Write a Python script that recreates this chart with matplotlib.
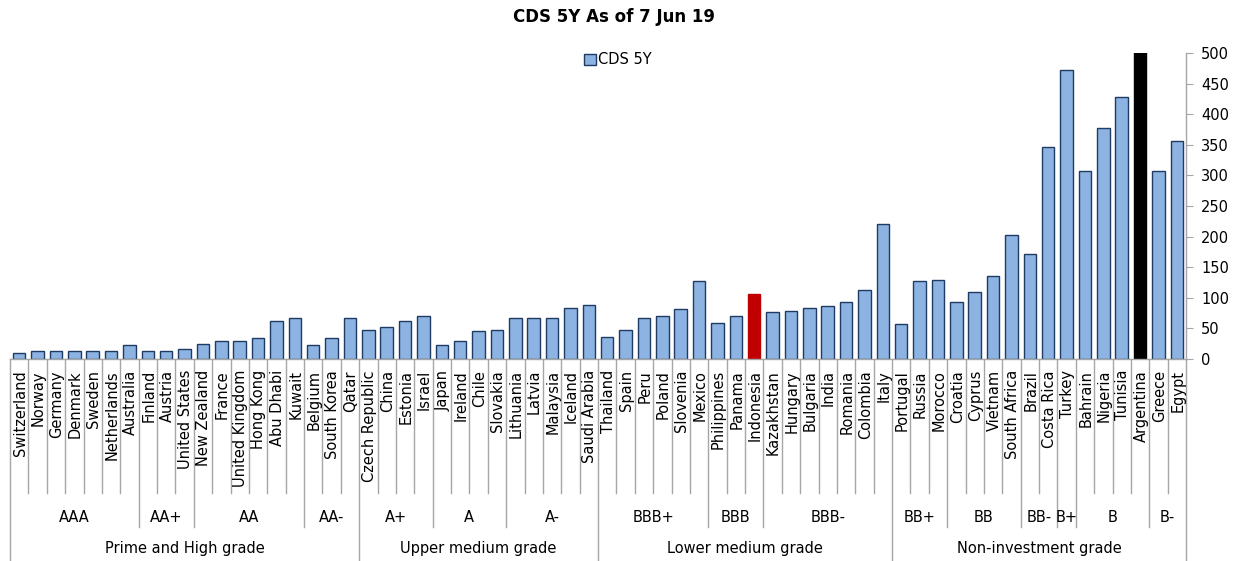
import matplotlib.pyplot as plt
import matplotlib.transforms as mtransforms
from matplotlib.patches import Patch

COUNTRIES = [
    "Switzerland", "Norway", "Germany", "Denmark", "Sweden", "Netherlands", "Australia",
    "Finland", "Austria", "United States",
    "New Zealand", "France", "United Kingdom", "Hong Kong", "Abu Dhabi", "Kuwait",
    "Belgium", "South Korea", "Qatar",
    "Czech Republic", "China", "Estonia", "Israel",
    "Japan", "Ireland", "Chile", "Slovakia",
    "Lithuania", "Latvia", "Malaysia", "Iceland", "Saudi Arabia",
    "Thailand", "Spain", "Peru", "Poland", "Slovenia", "Mexico",
    "Philippines", "Panama", "Indonesia",
    "Kazakhstan", "Hungary", "Bulgaria", "India", "Romania", "Colombia", "Italy",
    "Portugal", "Russia", "Morocco",
    "Croatia", "Cyprus", "Vietnam", "South Africa",
    "Brazil", "Costa Rica",
    "Turkey",
    "Bahrain", "Nigeria", "Tunisia", "Argentina",
    "Greece", "Egypt",
]
CDS_5Y = [
    10, 13, 13, 13, 13, 13, 23,
    13, 13, 17,
    25, 30, 30, 34, 62, 67,
    23, 34, 67,
    48, 53, 62, 70,
    23, 30, 45, 47,
    67, 67, 67, 84, 89,
    36, 48, 67, 70, 82, 128,
    59, 70, 106,
    76, 78, 84, 87, 93, 112, 221,
    58, 127, 129,
    93, 110, 135, 202,
    172, 346,
    472,
    308, 378, 428, 900,
    308, 356,
]
RATINGS = ["AAA", "AA+", "AA", "AA-", "A+", "A", "A-", "BBB+", "BBB", "BBB-",
           "BB+", "BB", "BB-", "B+", "B", "B-"]
RATING_SIZES = [7, 3, 6, 3, 4, 4, 5, 6, 3, 7, 3, 4, 2, 1, 4, 2]
GRADES = ["Prime and High grade", "Upper medium grade",
          "Lower medium grade", "Non-investment grade"]
GRADE_SIZES = [19, 13, 16, 16]
HIGHLIGHT = {"Indonesia": "#C00000", "Argentina": "#000000"}

BAR_COLOR = "#8DB3E2"
EDGE_COLOR = "#1F3B63"
GRID_GRAY = "#A6A6A6"

plt.rcParams["font.family"] = ["DejaVu Sans"]

W, H = 1240, 561
fig = plt.figure(figsize=(W / 100, H / 100), dpi=100)
ax_left, ax_right, ax_bottom, ax_top = 10, 1186, 359, 53
ax = fig.add_axes([ax_left / W, 1 - ax_bottom / H,
                   (ax_right - ax_left) / W, (ax_bottom - ax_top) / H])
ax_h = ax_bottom - ax_top

x = list(range(len(COUNTRIES)))
colors = [HIGHLIGHT.get(c, BAR_COLOR) for c in COUNTRIES]
edges = [HIGHLIGHT.get(c, EDGE_COLOR) for c in COUNTRIES]
ax.bar(x, CDS_5Y, width=0.68, color=colors, edgecolor=edges, linewidth=1.0, zorder=2)

ax.set_xlim(-0.5, len(COUNTRIES) - 0.5)
ax.set_ylim(0, 500)
ax.set_yticks(range(0, 501, 50))
ax.yaxis.tick_right()
ax.tick_params(axis="y", direction="out", length=5, color=GRID_GRAY,
               labelsize=10.5, pad=6)
ax.set_xticks([])
for side in ("left", "top"):
    ax.spines[side].set_visible(False)
for side in ("right", "bottom"):
    ax.spines[side].set_color(GRID_GRAY)
    ax.spines[side].set_linewidth(1.0)

trans = mtransforms.blended_transform_factory(ax.transData, ax.transAxes)

# category boundaries: country / rating / grade levels
rating_edges = set()
pos = 0
for n in RATING_SIZES:
    pos += n
    rating_edges.add(pos)
grade_edges = {0}
pos = 0
for n in GRADE_SIZES:
    pos += n
    grade_edges.add(pos)

depth_country = -(493 - ax_bottom) / ax_h
depth_rating = -(527 - ax_bottom) / ax_h
depth_grade = -(561 - ax_bottom) / ax_h
for i in range(len(COUNTRIES) + 1):
    if i in grade_edges:
        d = depth_grade
    elif i in rating_edges:
        d = depth_rating
    else:
        d = depth_country
    ax.plot([i - 0.5, i - 0.5], [0, d], transform=trans, color=GRID_GRAY,
            linewidth=1.0, clip_on=False)

label_size = 10.5
for i, name in enumerate(COUNTRIES):
    ax.text(i + 0.05, -11 / ax_h, name, transform=trans, rotation=90,
            ha="center", va="top", fontsize=label_size)

start = 0
for name, n in zip(RATINGS, RATING_SIZES):
    ax.text(start + n / 2 - 0.5, -(518 - ax_bottom) / ax_h, name, transform=trans,
            ha="center", va="center", fontsize=label_size)
    start += n

start = 0
for name, n in zip(GRADES, GRADE_SIZES):
    ax.text(start + n / 2 - 0.5, -(548 - ax_bottom) / ax_h, name, transform=trans,
            ha="center", va="center", fontsize=label_size)
    start += n

fig.text(614 / W, 1 - 17 / H, "CDS 5Y As of 7 Jun 19", ha="center", va="center",
         fontsize=12, fontweight="bold")

handle = Patch(facecolor=BAR_COLOR, edgecolor=EDGE_COLOR, linewidth=1.0)
fig.legend([handle], ["CDS 5Y"], loc="center", bbox_to_anchor=(618 / W, 1 - 60 / H),
           frameon=False, fontsize=10.5, handlelength=0.8, handleheight=0.8,
           handletextpad=0.2, borderpad=0)

fig.savefig("out.png", dpi=100)
